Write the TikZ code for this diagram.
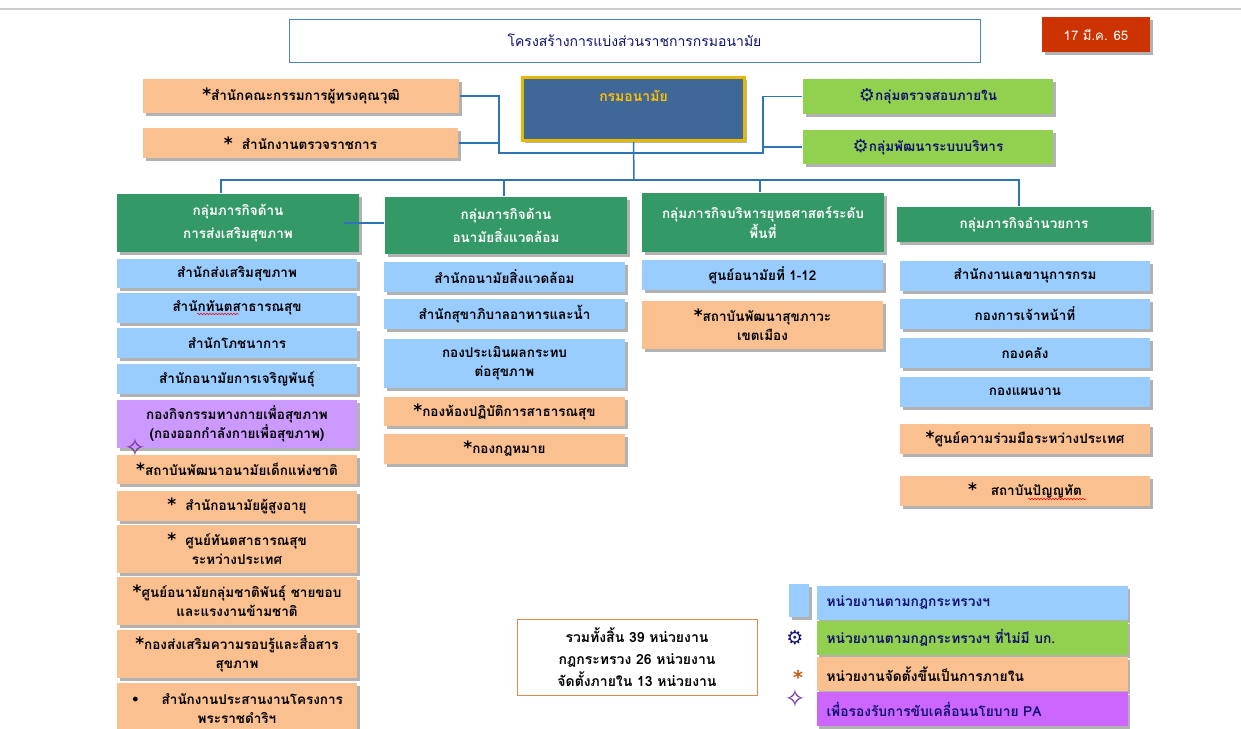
\documentclass[tikz,border=0pt]{standalone}
\usepackage{fontspec}
\setmainfont{Loma}[Script=Thai]
\newfontfamily\symfont{DejaVu Sans}
\usetikzlibrary{shadows,decorations.pathmorphing}

\definecolor{boxblue}{HTML}{99CCFF}
\definecolor{boxorange}{HTML}{FAC090}
\definecolor{boxpurple}{HTML}{CC99FF}
\definecolor{boxviolet}{HTML}{CC66FF}
\definecolor{grpgreen}{HTML}{339966}
\definecolor{litegreen}{HTML}{92D050}
\definecolor{headblue}{HTML}{3F6797}
\definecolor{headgold}{HTML}{E6B800}
\definecolor{headtext}{HTML}{FFC000}
\definecolor{datered}{HTML}{CC3300}
\definecolor{linkblue}{HTML}{2E75B6}
\definecolor{navytext}{HTML}{10106E}
\definecolor{titleline}{HTML}{4F81BD}
\definecolor{sumline}{HTML}{E08A4A}
\definecolor{starbrown}{HTML}{C55A11}
\definecolor{sparkle}{HTML}{7030A0}

\newcommand\orgstar{{\symfont\bfseries\fontsize{17}{17}\selectfont *}}
\newcommand\gearsym{\raisebox{-0.1ex}{\symfont\fontsize{18}{18}\selectfont ⚙}}

\begin{document}
\begin{tikzpicture}[x=1pt, y=-1pt, line width=1.5pt,
    font=\bfseries\fontsize{13.5}{19}\selectfont,
    unit/.style={rectangle, inner sep=1pt, align=center,
        drop shadow={shadow xshift=2.5pt, shadow yshift=-2.5pt, fill=black, opacity=0.3}},
    bunit/.style={unit, fill=boxblue},
    ounit/.style={unit, fill=boxorange},
    group/.style={unit, fill=grpgreen, text=white, font=\bfseries\fontsize{13.5}{23}\selectfont},
    key/.style={unit, minimum height=34, text width=291, inner xsep=10pt, align=left,
        font=\bfseries\fontsize{13.8}{19}\selectfont},
    link/.style={draw=linkblue, line width=1.5pt},
    squiggle/.style={draw=red, line width=0.5pt, decorate,
        decoration={snake, amplitude=0.8pt, segment length=3pt}}]

    \useasboundingbox (0,0) rectangle (1241,728);
    \draw[black!20, line width=2pt] (0,9) -- (1241,9);

    % --- Titolo e data ---
    \node[rectangle, draw=titleline, line width=0.8pt, minimum width=691, minimum height=43,
        text=navytext, font=\fontsize{14}{18}\selectfont] (title) at (634.5,40.5)
        {โครงสร้างการแบ่งส่วนราชการกรมอนามัย};
    \node[unit, fill=datered, text=white, minimum width=108, minimum height=35,
        font=\fontsize{13.2}{18}\selectfont] (date) at (1096,34.5) {17 มี.ค. 65};

    % --- Livello superiore ---
    \node[unit, fill=headblue, draw=headgold, line width=3pt, minimum width=222, minimum height=63,
        label={[anchor=north, yshift=-10pt, text=headtext, font=\bfseries\fontsize{14}{18}\selectfont]north:กรมอนามัย}]
        (head) at (633.5,109) {};
    \node[ounit, minimum width=316, minimum height=34] (advA) at (301,96)
        {\orgstar สำนักคณะกรรมการผู้ทรงคุณวุฒิ};
    \node[ounit, minimum width=315, minimum height=30] (advB) at (300.5,143)
        {\orgstar\ \ สำนักงานตรวจราชการ};
    \node[unit, fill=litegreen, text=navytext, minimum width=250, minimum height=35] (audit) at (928,96.5)
        {\gearsym กลุ่มตรวจสอบภายใน};
    \node[unit, fill=litegreen, text=navytext, minimum width=250, minimum height=34] (admdev) at (928,147)
        {\gearsym กลุ่มพัฒนาระบบบริหาร};

    % --- Intestazioni dei gruppi ---
    \node[group, minimum width=242, minimum height=58] (grp1) at (238,223) {กลุ่มภารกิจด้าน\\การส่งเสริมสุขภาพ};
    \node[group, minimum width=242, minimum height=57] (grp2) at (506,225.5) {กลุ่มภารกิจด้าน\\อนามัยสิ่งแวดล้อม};
    \node[group, minimum width=242, minimum height=59, font=\bfseries\fontsize{13.5}{20}\selectfont]
        (grp3) at (763,222.5) {กลุ่มภารกิจบริหารยุทธศาสตร์ระดับ\\พื้นที่};
    \node[group, minimum width=254, minimum height=35] (grp4) at (1024,224.5) {กลุ่มภารกิจอำนวยการ};

    % --- Colonna 1 ---
    \begin{scope}[every node/.append style={minimum width=240}]
        \node[bunit, minimum height=29] (c1-1) at (237,273.5) {สำนักส่งเสริมสุขภาพ};
        \node[bunit, minimum height=30] (c1-2) at (237,308) {สำนักทันตสาธารณสุข};
        \node[bunit, minimum height=30] (c1-3) at (237,343) {สำนักโภชนาการ};
        \node[bunit, minimum height=30] (c1-4) at (237,379) {สำนักอนามัยการเจริญพันธุ์};
        \node[unit, fill=boxpurple, minimum height=48] (c1-5) at (237,424)
            {กองกิจกรรมทางกายเพื่อสุขภาพ\\(กองออกกำลังกายเพื่อสุขภาพ)};
        \node[ounit, minimum height=29] (c1-6) at (237,469.5) {\orgstar สถาบันพัฒนาอนามัยเด็กแห่งชาติ};
        \node[ounit, minimum height=30] (c1-7) at (237,506) {\orgstar\ \ สำนักอนามัยผู้สูงอายุ};
        \node[ounit, minimum height=48] (c1-8) at (237,549) {\orgstar\ \ ศูนย์ทันตสาธารณสุข\\ระหว่างประเทศ};
        \node[ounit, minimum height=48] (c1-9) at (237,601)
            {\orgstar ศูนย์อนามัยกลุ่มชาติพันธุ์ ชายขอบ\\และแรงงานข้ามชาติ};
        \node[ounit, minimum height=48] (c1-10) at (237,654)
            {\orgstar กองส่งเสริมความรอบรู้และสื่อสาร\\สุขภาพ};
        \node[ounit, minimum height=52] (c1-11) at (237,709)
            {{\symfont •}\hspace{22pt}สำนักงานประสานงานโครงการ\\พระราชดำริฯ};
    \end{scope}
    \node[text=sparkle, font=\symfont\fontsize{25}{25}\selectfont] (pa) at (135,447) {✧};

    % --- Colonna 2 ---
    \begin{scope}[every node/.append style={minimum width=241}]
        \node[bunit, minimum height=30] (c2-1) at (504.5,277) {สำนักอนามัยสิ่งแวดล้อม};
        \node[bunit, minimum height=30] (c2-2) at (504.5,314) {สำนักสุขาภิบาลอาหารและน้ำ};
        \node[bunit, minimum height=49] (c2-3) at (504.5,363.5) {กองประเมินผลกระทบ\\ต่อสุขภาพ};
        \node[ounit, minimum height=29] (c2-4) at (504.5,411.5) {\orgstar กองห้องปฏิบัติการสาธารณสุข};
        \node[ounit, minimum height=30] (c2-5) at (504.5,449) {\orgstar กองกฎหมาย};
    \end{scope}

    % --- Colonna 3 ---
    \node[bunit, minimum width=241, minimum height=30] (c3-1) at (762.5,275) {ศูนย์อนามัยที่ 1-12};
    \node[ounit, minimum width=241, minimum height=48] (c3-2) at (762.5,325)
        {\orgstar สถาบันพัฒนาสุขภาวะ\\เขตเมือง};

    % --- Colonna 4 ---
    \begin{scope}[every node/.append style={minimum width=250, minimum height=30}]
        \node[bunit] (c4-1) at (1025,276) {สำนักงานเลขานุการกรม};
        \node[bunit] (c4-2) at (1025,314) {กองการเจ้าหน้าที่};
        \node[bunit] (c4-3) at (1025,353) {กองคลัง};
        \node[bunit] (c4-4) at (1025,392) {กองแผนงาน};
        \node[ounit] (c4-5) at (1025,439) {\orgstar ศูนย์ความร่วมมือระหว่างประเทศ};
        \node[ounit] (c4-6) at (1025,491) {\orgstar\ \ \ สถาบันปัญญทัต};
    \end{scope}

    % sottolineature ondulate (correttore ortografico)
    \draw[squiggle] (197,314) -- (239,314);
    \draw[squiggle] (1028,499) -- (1086,499);

    % --- Collegamenti ---
    \coordinate (jl) at (499,153);
    \coordinate (jr) at (763,153);
    \coordinate (bus) at (634,180);
    \draw[link] (advA.east) -| (jl) -- (jr) |- (audit.west);
    \draw[link] (advB.east) -- (advB.east -| jl);
    \draw[link] (admdev.west) -- (admdev.west -| jr);
    \draw[link] (head.south) -- (bus);
    \draw[link] ([xshift=-17pt]grp1.north) |- (bus) -| ([xshift=-5pt]grp4.north);
    \draw[link] ([xshift=-2pt]grp2.north) -- ([xshift=-2pt]grp2.north |- bus);
    \draw[link] ([xshift=-3pt]grp3.north) -- ([xshift=-3pt]grp3.north |- bus);
    \draw[link] ([xshift=-16pt]grp1.east) -- (grp1.east -| grp2.west);

    % --- Riepilogo ---
    \node[rectangle, draw=sumline, line width=1pt, fill=white, minimum width=240, minimum height=76,
        align=center, font=\bfseries\fontsize{14}{22}\selectfont] (total) at (637,657)
        {รวมทั้งสิ้น 39 หน่วยงาน\\กฎกระทรวง 26 หน่วยงาน\\จัดตั้งภายใน 13 หน่วยงาน};

    % --- Legenda ---
    \node[bunit, minimum width=20, minimum height=33] (keysq) at (799,600.5) {};
    \node[key, fill=boxblue, text=navytext] (key1) at (972,603) {หน่วยงานตามกฎกระทรวงฯ};
    \node[key, fill=litegreen, text=navytext] (key2) at (972,638) {หน่วยงานตามกฎกระทรวงฯ ที่ไม่มี บก.};
    \node[key, fill=boxorange] (key3) at (972,674) {หน่วยงานจัดตั้งขึ้นเป็นการภายใน};
    \node[key, fill=boxviolet, text=navytext] (key4) at (972,709) {เพื่อรองรับการขับเคลื่อนนโยบาย PA};
    \node[text=navytext, font=\symfont\fontsize{19}{19}\selectfont] (ksym2) at (795,638) {⚙};
    \node[text=starbrown, font=\symfont\bfseries\fontsize{19}{19}\selectfont] (ksym3) at (798,677) {*};
    \node[text=sparkle, font=\symfont\fontsize{25}{25}\selectfont] (ksym4) at (795,698) {✧};

\end{tikzpicture}
\end{document}
